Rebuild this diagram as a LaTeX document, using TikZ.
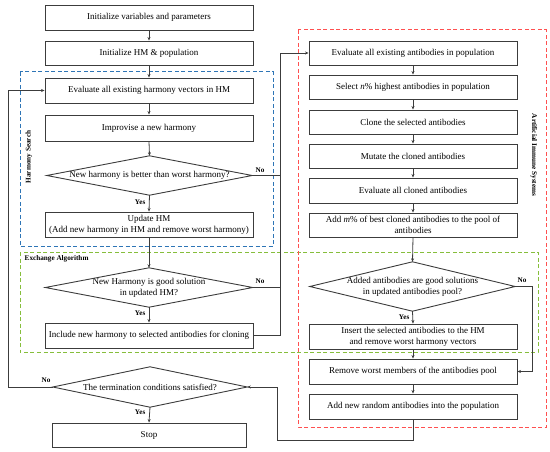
\documentclass[tikz,border=0pt]{standalone}
\usepackage{fontspec}
\setmainfont{Liberation Serif}
\usetikzlibrary{arrows.meta,calc}
\definecolor{hsblue}{RGB}{46,117,182}
\definecolor{exgreen}{RGB}{134,190,60}
\definecolor{aisred}{RGB}{255,80,80}
\definecolor{edge}{RGB}{60,60,60}
\begin{document}
\begin{tikzpicture}[x=1pt,y=-1pt,
  box/.style={draw=edge,line width=0.9pt,minimum width=208pt,minimum height=25pt,inner sep=1pt,align=center,font=\fontsize{9}{10.8}\selectfont},
  dia/.style={minimum width=205pt,minimum height=39pt,inner sep=0pt,align=center,font=\fontsize{9}{10.8}\selectfont},
  arr/.style={draw=edge,line width=0.8pt,-{Stealth[length=3.5pt,width=3pt]}},
  ln/.style={draw=edge,line width=0.8pt},
  lab/.style={font=\bfseries\fontsize{7.2}{8}\selectfont,inner sep=0.5pt},
  grp/.style={line width=1pt,dash pattern=on 4pt off 2.5pt}
]
\useasboundingbox (0,0) rectangle (550,452);
% group frames
\draw[grp,draw=hsblue] (20,72) rectangle (273,246);
\draw[grp,draw=exgreen] (20,252) rectangle (538,352);
\draw[grp,draw=aisred] (298,30) rectangle (546,427);
\node[lab,rotate=90] (hslab) at (29,157) {Harmony Search};
\node[lab,rotate=-90] (aislab) at (534,155) {Artificial Immune Systems};
\node[lab,anchor=west] (exlab) at (24,259) {Exchange Algorithm};
% left column
\node[box] (b1) at (149,17.5) {Initialize variables and parameters};
\node[box,minimum height=24pt] (b2) at (149,53) {Initialize HM \& population};
\node[box] (b3) at (149,90.5) {Evaluate all existing harmony vectors in HM};
\node[box,minimum height=26pt] (b4) at (149,128) {Improvise a new harmony};
\node[dia] (d1) at (149.5,175.5) {New harmony is better than worst harmony?};
\node[box] (b5) at (149,224.5) {Update HM\\(Add new harmony in HM and remove worst harmony)};
\node[dia,minimum width=207pt] (d2) at (149,287.5) {New Harmony is good solution\\in updated HM?};
\node[box] (b6) at (149,335.5) {Include new harmony to selected antibodies for cloning};
\node[dia,minimum width=194pt,minimum height=40pt] (d3) at (150,387) {The termination conditions satisfied?};
\node[box,minimum width=194pt,minimum height=24pt] (stop) at (149,435) {Stop};
% right column
\node[box,minimum height=24pt] (r1) at (413,53) {Evaluate all existing antibodies in population};
\node[box,minimum height=24pt] (r2) at (413,87) {Select \textit{n}\% highest antibodies in population};
\node[box,minimum height=24pt] (r3) at (413,122) {Clone the selected antibodies};
\node[box,minimum height=24pt] (r4) at (413,156) {Mutate the cloned antibodies};
\node[box] (r5) at (413,190.5) {Evaluate all cloned antibodies};
\node[box,minimum height=24pt] (r6) at (413,225) {Add \textit{m}\% of best cloned antibodies to the pool of\\antibodies};
\node[dia,minimum height=49pt] (dr) at (412.5,286.5) {Added antibodies are good solutions\\in updated antibodies pool?};
\node[box] (r7) at (413,336.5) {Insert the selected antibodies to the HM\\and remove worst harmony vectors};
\node[box] (r8) at (413,371.5) {Remove worst members of the antibodies pool};
\node[box] (r9) at (413,406.5) {Add new random antibodies into the population};
% diamond outlines
\foreach \d in {d1,d2,d3,dr}{
  \draw[edge,line width=0.9pt] (\d.west) -- (\d.north) -- (\d.east) -- (\d.south) -- cycle;
}
% bus coordinates
\coordinate (bus) at (280,0);
\coordinate (lb) at (8,0);
\coordinate (rb) at (532,0);
\coordinate (bb) at (277,440);
% left column arrows
\draw[arr] (b1) -- (b2);
\draw[arr] (b2) -- (b3);
\draw[arr] (b3) -- (b4);
\draw[arr] (b4.south) -- (d1.north);
\draw[arr] (d1.south) -- (b5.north);
\draw[arr] (b5.south) -- (d2.north);
\draw[arr] (d2.south) -- (b6.north);
\draw[arr] (d3.south) -- (stop.north);
\draw[arr] (d3.west) -- (d3.west -| lb) |- (b3.west);
% crossing to AIS
\draw[ln] (d1.east) -- (d1.east -| bus);
\draw[ln] (d2.east) -- (d2.east -| bus);
\draw[arr] (b6.east) -| (bus |- r1.west) -- (r1.west);
% right column arrows
\draw[arr] (r1) -- (r2);
\draw[arr] (r2) -- (r3);
\draw[arr] (r3) -- (r4);
\draw[arr] (r4) -- (r5);
\draw[arr] (r5) -- (r6);
\draw[arr] (r6.south) -- (dr.north);
\draw[arr] (dr.south) -- (r7.north);
\draw[arr] (r7) -- (r8);
\draw[arr] (r8) -- (r9);
\draw[arr] (dr.east) -- (dr.east -| rb) |- (r8.east);
\draw[arr] (r9.south) |- (bb) |- (d3.east);
% labels
\node[lab] (n1) at (260,170.5) {No};
\node[lab,anchor=east] (y1) at (146,202) {Yes};
\node[lab] (n2) at (260,281.5) {No};
\node[lab,anchor=east] (y2) at (146,313) {Yes};
\node[lab] (n3) at (46,380) {No};
\node[lab,anchor=east] (y3) at (146,412) {Yes};
\node[lab] (n4) at (522,280.5) {No};
\node[lab,anchor=east] (y4) at (410,317) {Yes};
\end{tikzpicture}
\end{document}
